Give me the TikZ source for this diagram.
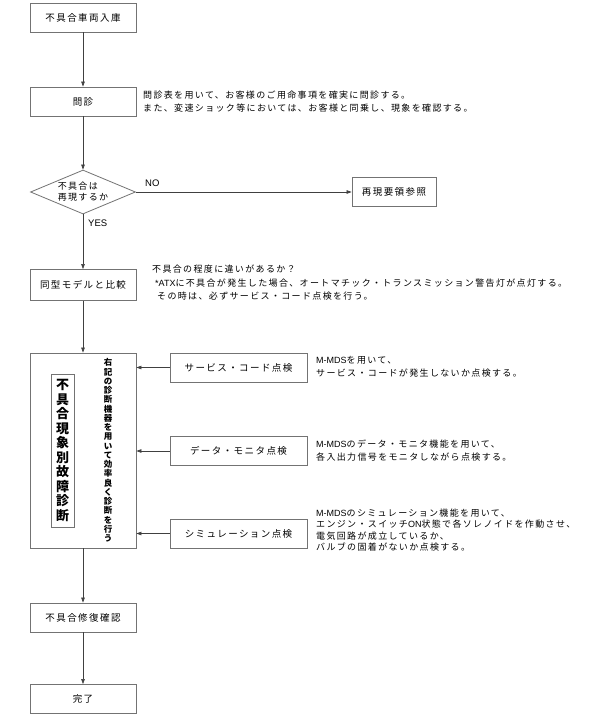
\documentclass[tikz,border=0pt]{standalone}
\usepackage{fontspec}
\setmainfont{Noto Sans CJK JP}
\newfontfamily\lblfont[LetterSpace=15]{Noto Sans CJK JP}
\newfontfamily\dscfont[LetterSpace=15]{Noto Sans CJK JP}
\newfontfamily\latfont{Liberation Sans}
\newcommand{\lt}[1]{{\latfont #1}}
\usetikzlibrary{arrows.meta,shapes.geometric}
\begin{document}
\begin{tikzpicture}[x=1pt,y=-1pt,
  box/.style={draw=black!55,line width=0.8pt,minimum width=106pt,minimum height=29pt,inner sep=0pt,font=\lblfont\fontsize{9.5}{11}\selectfont},
  sbox/.style={box,minimum width=137pt},
  desc/.style={anchor=west,align=left,inner sep=0pt,font=\dscfont\fontsize{9}{12.5}\selectfont},
  lab/.style={anchor=west,inner sep=0pt,font=\latfont\fontsize{9.5}{11}\selectfont},
  conn/.style={draw=black!75,line width=0.6pt,-{Triangle[length=5pt,width=3.5pt]}},
]
\useasboundingbox (0,0) rectangle (598,718);
\fill[white] (0,0) rectangle (598,718);

\node[box] (n1) at (83,17.5) {不具合車両入庫};
\node[box] (n2) at (83,101.5) {問診};
\node[desc] (d2) at (143,101.5) {問診表を用いて、お客様のご用命事項を確実に問診する。\\また、変速ショック等においては、お客様と同乗し、現象を確認する。};

\node[draw=black!55,line width=0.8pt,shape=diamond,aspect=2.39,minimum width=105pt,minimum height=44pt,inner sep=0pt,align=left,font=\dscfont\fontsize{9}{11}\selectfont] (q) at (83,192) {不具合は\\再現するか};
\node[box,minimum width=84pt] (r) at (394,192) {再現要領参照};
\node[lab] (no) at (145,183) {NO};
\node[lab] (yes) at (88,223) {YES};

\node[box,minimum height=31pt] (n3) at (83,285) {同型モデルと比較};
\node[desc] (d3a) at (152,269) {不具合の程度に違いがあるか？};
\node[desc] (d3b) at (155,283) {\lt{*ATX}に不具合が発生した場合、オートマチック・トランスミッション警告灯が点灯する。};
\node[desc] (d3c) at (157,296) {その時は、必ずサービス・コード点検を行う。};

\node[draw=black!55,line width=0.8pt,minimum width=106pt,minimum height=195pt,inner sep=0pt] (big) at (83,450.5) {};
\node[draw=black!55,line width=0.8pt,minimum width=23pt,minimum height=153pt,inner sep=0pt,align=center,font=\bfseries\fontsize{13}{14.5}\selectfont] (bigt) at (62.5,450.5) {不\\具\\合\\現\\象\\別\\故\\障\\診\\断};
\node[inner sep=0pt,align=center,font=\bfseries\fontsize{8.5}{9.25}\selectfont] (side) at (108,450.5) {右\\記\\の\\診\\断\\機\\器\\を\\用\\い\\て\\効\\率\\良\\く\\診\\断\\を\\行\\う};

\node[sbox] (s1) at (238.5,367.5) {サービス・コード点検};
\node[sbox] (s2) at (238.5,451) {データ・モニタ点検};
\node[sbox] (s3) at (238.5,533.5) {シミュレーション点検};
\node[desc] (t1) at (316,367) {\lt{M-MDS}を用いて、\\サービス・コードが発生しないか点検する。};
\node[desc] (t2) at (316,450.5) {\lt{M-MDS}のデータ・モニタ機能を用いて、\\各入出力信号をモニタしながら点検する。};
\node[desc,font=\dscfont\fontsize{9}{11.5}\selectfont] (t3) at (316,530) {\lt{M-MDS}のシミュレーション機能を用いて、\\エンジン・スイッチ\lt{ON}状態で各ソレノイドを作動させ、\\電気回路が成立しているか、\\バルブの固着がないか点検する。};

\node[box] (n4) at (83,617.5) {不具合修復確認};
\node[box] (n5) at (83,699) {完了};

\draw[conn] (n1) -- (n2);
\draw[conn] (n2) -- (q);
\draw[conn] (q) -- (n3);
\draw[conn] (q) -- (r);
\draw[conn] (n3) -- (big);
\draw[conn] (s1) -- (s1 -| big.east);
\draw[conn] (s2) -- (s2 -| big.east);
\draw[conn] (s3) -- (s3 -| big.east);
\draw[conn] (big) -- (n4);
\draw[conn] (n4) -- (n5);
\end{tikzpicture}
\end{document}
